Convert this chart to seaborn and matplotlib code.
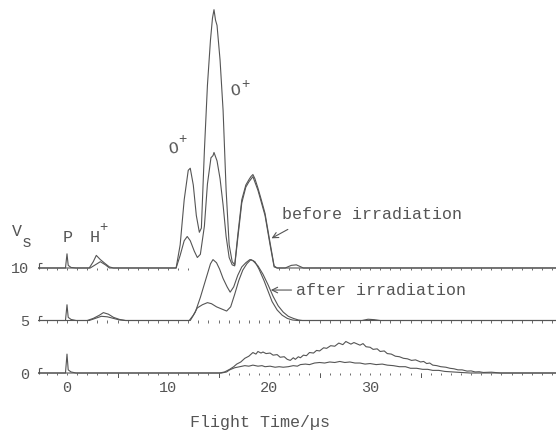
import numpy as np
import pandas as pd
import matplotlib
matplotlib.use("Agg")
import matplotlib.pyplot as plt
import seaborn as sns

# ============================================================
# DATA (flight time in us, signal in Vs above each trace's baseline)
# ============================================================

T_START, T_END = -2.87, 48.4
offsets = [10, 5, 0]          # baselines of the three stacked groups

# prompt peak "P" at t = 0 (one per group)
p_t = [-0.15, 0.0, 0.12, 0.4, 0.9]
p_top = [0.0, 1.35, 0.25, 0.05, 0.0]
p_mid = [0.0, 1.5, 0.3, 0.1, 0.0]
p_bot = [0.0, 1.8, 0.3, 0.1, 0.0]

# H+ bumps
hA_top_t = [2.2, 2.6, 2.9, 3.3, 3.8, 4.2, 4.6]
hA_top_v = [0.0, 0.6, 1.2, 0.8, 0.4, 0.1, 0.0]
hB_top_t = [2.3, 2.8, 3.3, 3.8, 4.2]
hB_top_v = [0.0, 0.3, 0.6, 0.3, 0.0]
hA_mid_t = [2.0, 2.6, 3.2, 3.6, 4.1, 4.6, 5.2, 5.8]
hA_mid_v = [0.0, 0.2, 0.5, 0.75, 0.6, 0.3, 0.1, 0.0]
hB_mid_t = [2.2, 2.8, 3.4, 4.0, 4.6, 5.2, 5.8]
hB_mid_v = [0.0, 0.2, 0.4, 0.35, 0.2, 0.05, 0.0]

# top group: O+ peaks (before irradiation)
oA_top_t = [10.8, 11.2, 11.6, 12.0, 12.2, 12.5, 12.8, 13.1, 13.3, 13.6, 13.9, 14.2,
            14.4, 14.55, 14.7, 14.85, 15.15, 15.45, 15.75, 16.05, 16.35, 16.6, 16.9,
            17.3, 17.7, 18.0, 18.2, 18.4, 18.6, 18.9, 19.2, 19.6, 20.1, 20.5, 20.8,
            21.6, 22.2, 22.7, 23.4]
oA_top_v = [0.0, 2.2, 6.5, 9.3, 9.5, 7.9, 5.0, 3.4, 3.8, 11.2, 17.4, 21.7,
            23.8, 24.6, 23.6, 23.1, 19.8, 15.0, 7.4, 2.2, 0.6, 0.3, 3.1,
            6.5, 7.9, 8.4, 8.7, 8.9, 8.5, 7.6, 6.6, 5.2, 2.4, 0.2, 0.0,
            0.0, 0.25, 0.3, 0.0]
oB_top_t = [10.8, 11.2, 11.6, 11.9, 12.2, 12.6, 12.9, 13.2, 13.6, 13.9, 14.25,
            14.45, 14.55, 14.85, 15.15, 15.45, 15.75, 16.05, 16.35, 16.6, 16.9,
            17.3, 17.7, 18.0, 18.4, 18.9, 19.6, 20.1, 20.5, 20.8]
oB_top_v = [0.0, 1.2, 2.6, 3.0, 2.6, 1.6, 1.0, 1.3, 4.0, 8.0, 10.5,
            10.7, 11.0, 10.2, 8.5, 6.0, 3.0, 1.0, 0.3, 0.2, 2.8,
            6.2, 7.7, 8.2, 8.7, 7.4, 5.0, 2.2, 0.1, 0.0]

# middle group (after irradiation)
oA_mid_t = [12.2, 12.7, 13.2, 13.7, 14.2, 14.45, 14.8, 15.1, 15.45, 15.85, 16.15,
            16.5, 16.9, 17.3, 17.7, 18.1, 18.4, 18.9, 19.4, 19.9, 20.4, 20.9,
            21.4, 21.9, 22.4, 22.9, 23.3]
oA_mid_v = [0.0, 0.8, 2.2, 3.8, 5.4, 5.8, 5.5, 4.9, 4.0, 3.2, 2.7,
            3.2, 4.3, 5.1, 5.5, 5.8, 5.7, 5.2, 4.4, 3.4, 2.3, 1.4,
            0.8, 0.4, 0.2, 0.05, 0.0]
oB_mid_t = [12.1, 12.5, 12.9, 13.4, 13.9, 14.3, 14.8, 15.3, 15.8, 16.2, 16.6,
            17.0, 17.4, 17.8, 18.2, 18.6, 19.0, 19.5, 19.9, 20.3, 20.8, 21.3,
            21.8, 22.3, 22.8]
oB_mid_v = [0.0, 0.5, 1.2, 1.5, 1.7, 1.6, 1.3, 1.1, 0.9, 1.3, 2.5,
            3.8, 4.8, 5.4, 5.8, 5.6, 4.9, 3.8, 2.8, 1.8, 1.0, 0.5,
            0.2, 0.05, 0.0]
bump_mid_t = [29.2, 29.8, 30.4, 31.0]
bump_mid_v = [0.0, 0.12, 0.08, 0.0]

# bottom group: broad distribution
oA_bot_t = [15.1, 15.6, 16.1, 16.5, 16.8, 17.2, 17.6, 18.0, 18.4, 18.7, 18.9, 19.2,
            19.4, 19.7, 20.1, 20.4, 20.8, 21.1, 21.5, 21.8, 22.1, 22.4, 22.6, 22.9,
            23.1, 23.4, 23.7, 24.0, 24.4, 24.7, 25.0, 25.4, 25.7, 26.1, 26.5, 26.9,
            27.3, 27.6, 28.1, 28.4, 29.0, 29.3, 29.6, 30.0, 30.3, 30.7, 31.0, 31.4,
            31.7, 32.1, 32.5, 32.9, 33.3, 33.7, 34.1, 34.5, 35.0, 35.3, 35.6, 35.9,
            36.2, 36.6, 37.0, 37.5, 37.9, 38.3, 38.7, 39.1, 39.6, 40.0, 40.4, 40.8,
            41.2, 42.0, 42.9]
oA_bot_v = [0.0, 0.1, 0.35, 0.6, 0.85, 1.05, 1.4, 1.6, 1.95, 1.8, 2.05, 1.9,
            2.0, 1.85, 1.9, 1.7, 1.75, 1.5, 1.55, 1.3, 1.2, 1.45, 1.3, 1.55,
            1.45, 1.7, 1.65, 1.95, 1.9, 2.15, 2.1, 2.4, 2.35, 2.6, 2.55, 2.85,
            2.7, 3.0, 2.75, 2.9, 2.65, 2.8, 2.5, 2.45, 2.25, 2.3, 2.05, 2.1,
            1.85, 1.8, 1.6, 1.55, 1.4, 1.35, 1.2, 1.25, 1.05, 1.1, 0.9, 0.95,
            0.75, 0.7, 0.6, 0.55, 0.45, 0.4, 0.3, 0.3, 0.18, 0.2, 0.1, 0.12,
            0.05, 0.08, 0.0]
oB_bot_t = [15.3, 15.8, 16.1, 16.6, 17.1, 17.6, 18.0, 18.4, 18.9, 19.3, 19.6, 20.1,
            20.6, 21.0, 21.4, 21.9, 22.4, 22.8, 23.1, 23.6, 24.0, 24.5, 25.0, 25.5,
            26.0, 26.5, 27.0, 27.5, 28.0, 28.5, 29.0, 29.5, 30.0, 30.6, 31.2, 31.7,
            32.3, 32.9, 33.5, 34.0, 34.6, 35.2, 35.7, 36.2, 36.8, 37.4, 38.2, 39.0,
            39.9]
oB_bot_v = [0.0, 0.1, 0.3, 0.5, 0.6, 0.7, 0.65, 0.75, 0.65, 0.7, 0.6, 0.65,
            0.55, 0.6, 0.55, 0.6, 0.7, 0.65, 0.8, 0.85, 0.8, 0.95, 1.0, 0.95,
            1.05, 1.0, 1.1, 1.0, 1.05, 0.95, 0.95, 0.85, 0.9, 0.8, 0.85, 0.75,
            0.7, 0.6, 0.6, 0.45, 0.45, 0.35, 0.35, 0.25, 0.25, 0.15, 0.1, 0.05,
            0.0]

x_ticks = [0, 10, 20, 30]
y_ticks = [0, 5, 10]


def build(offset, name, segments):
    t = [T_START]
    v = [0.0]
    for st, sv in segments:
        t += list(st)
        v += list(sv)
    t.append(T_END)
    v.append(0.0)
    return pd.DataFrame({"t": t, "v": np.array(v) + offset, "trace": name})


traces = [
    build(10, "topA", [(p_t, p_top), (hA_top_t, hA_top_v), (oA_top_t, oA_top_v)]),
    build(10, "topB", [(hB_top_t, hB_top_v), (oB_top_t, oB_top_v)]),
    build(5, "midA", [(p_t, p_mid), (hA_mid_t, hA_mid_v), (oA_mid_t, oA_mid_v),
                      (bump_mid_t, bump_mid_v)]),
    build(5, "midB", [(hB_mid_t, hB_mid_v), (oB_mid_t, oB_mid_v)]),
    build(0, "botA", [(p_t, p_bot), (oA_bot_t, oA_bot_v)]),
    build(0, "botB", [(oB_bot_t, oB_bot_v)]),
]

# ============================================================
# PLOT
# ============================================================

sns.set_style("white")
plt.rcParams["font.family"] = ["Liberation Mono", "DejaVu Sans"]

INK = "#555555"

fig = plt.figure(figsize=(5.56, 4.33), dpi=100)
ax = fig.add_axes([38 / 556, 55 / 433, 518 / 556, 378 / 433])

for df in traces:
    sns.lineplot(data=df, x="t", y="v", ax=ax, color=INK, lw=0.8,
                 sort=False, estimator=None)

# little tick marks along each baseline, and the start bracket
minor = np.arange(-2, 49, 1)
for off in offsets:
    marks = minor
    if off == 10:
        # baseline of the top trace is hidden under the O+ peaks
        marks = minor[(minor < 13) | (minor > 20)]
    ax.vlines(marks, off - 0.2, off, color=INK, lw=0.6)
    ax.vlines(T_START + 0.12, off - 0.05, off + 0.45, color=INK, lw=0.8)
    ax.hlines(off + 0.45, T_START + 0.12, T_START + 0.35, color=INK, lw=0.8)
ax.vlines([5, 15, 25, 35], -0.55, 0, color=INK, lw=0.7)

ax.set_xlim(T_START, T_END)
ax.set_ylim(-0.476, 35.52)
ax.set_xticks(x_ticks)
ax.set_yticks(y_ticks)
ax.set_xticklabels([str(x) for x in x_ticks])
ax.set_yticklabels([str(y) for y in y_ticks])
ax.tick_params(axis="both", length=0, labelsize=11, labelcolor=INK)
ax.tick_params(axis="x", pad=2)
ax.tick_params(axis="y", pad=6)
for s in ax.spines.values():
    s.set_visible(False)

ax.set_ylabel("")
ax.set_xlabel("Flight Time/\u00b5s", fontsize=12, color=INK)
ax.xaxis.set_label_coords((260 - 38) / 518, (378 - 423) / 378)
ax.xaxis.label.set_va("center")

txt = dict(color=INK, ha="center", va="center")
ax.text(-4.95, 13.45, "V", fontsize=12, **txt)
ax.text(-3.95, 12.4, "s", fontsize=12, **txt)
ax.text(0.1, 12.95, "P", fontsize=12, **txt)
ax.text(2.75, 12.95, "H", fontsize=12, **txt)
ax.text(3.65, 13.95, "+", fontsize=10, **txt)
ax.text(10.5, 21.4, "O", fontsize=12, rotation=10, **txt)
ax.text(11.45, 22.3, "+", fontsize=10, **txt)
ax.text(16.7, 26.9, "O", fontsize=12, rotation=10, **txt)
ax.text(17.7, 27.5, "+", fontsize=10, **txt)

ax.text(30.15, 15.05, "before irradiation", fontsize=12, **txt)
ax.annotate("", xy=(20.0, 12.7), xytext=(22.1, 13.8),
            arrowprops=dict(arrowstyle="->", color=INK, lw=0.8))
ax.text(31.1, 7.9, "after irradiation", fontsize=12, **txt)
ax.annotate("", xy=(19.9, 7.9), xytext=(22.5, 7.9),
            arrowprops=dict(arrowstyle="->", color=INK, lw=0.8))

plt.savefig("out.png", dpi=100)
